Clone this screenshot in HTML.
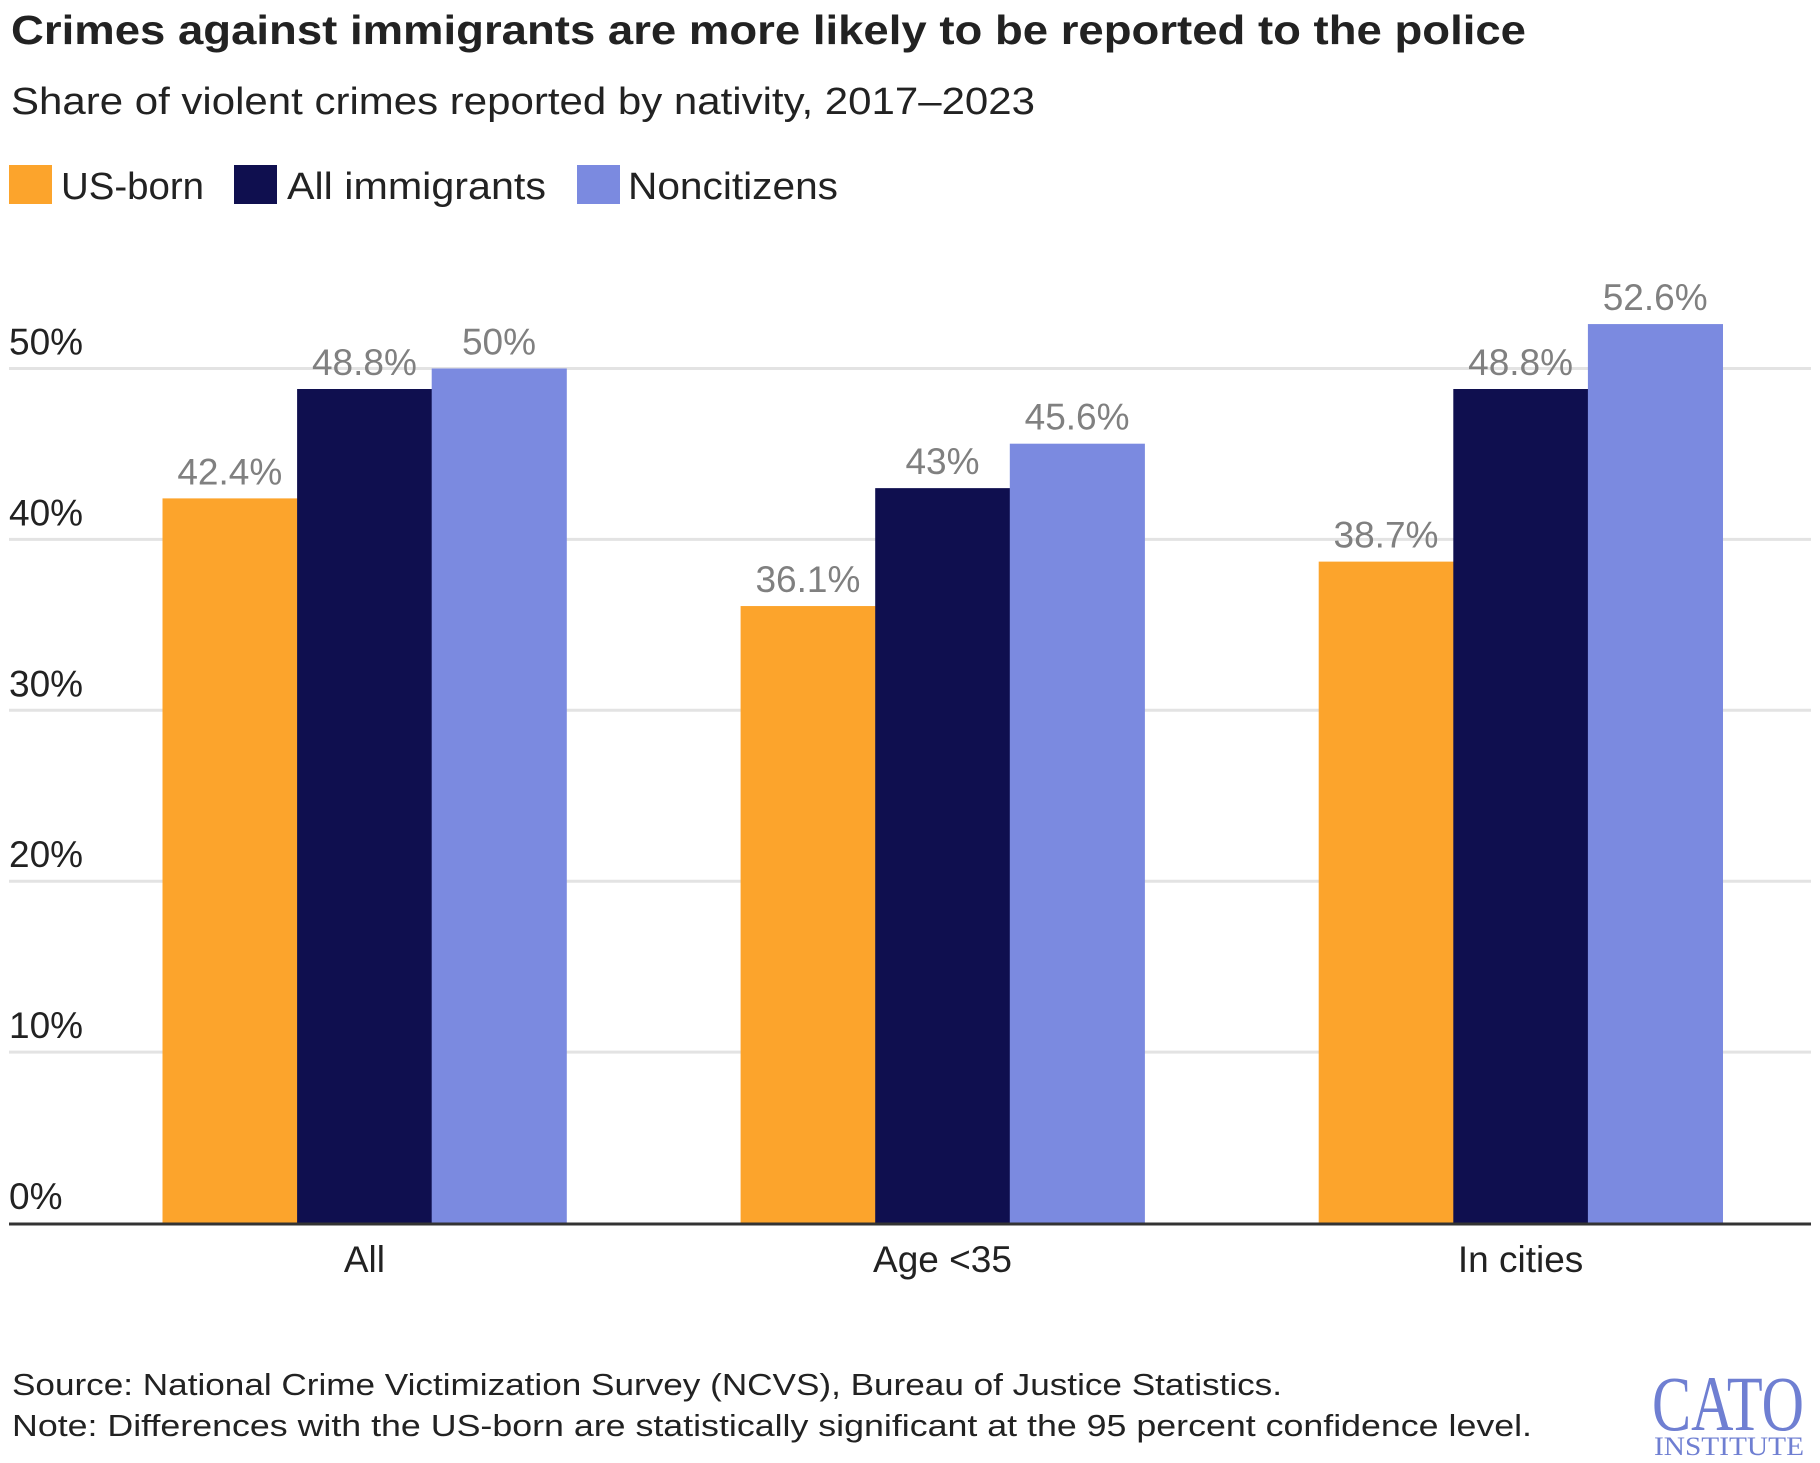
<!DOCTYPE html>
<html><head><meta charset="utf-8"><style>
html,body{margin:0;padding:0;background:#fff;}
svg{display:block;font-family:"Liberation Sans Narrow","Liberation Sans",sans-serif;}
</style></head><body>
<svg id="chart" width="1820" height="1463" viewBox="0 0 1820 1463">
<text x="11" y="44" font-size="41" font-weight="bold" fill="#222" textLength="1515" lengthAdjust="spacingAndGlyphs">Crimes against immigrants are more likely to be reported to the police</text>
<text x="11" y="114" font-size="38" fill="#222" textLength="1024" lengthAdjust="spacingAndGlyphs">Share of violent crimes reported by nativity, 2017–2023</text>
<g>
<rect x="9" y="165" width="43" height="39" fill="#fca42c"/>
<text x="61" y="199" font-size="38" fill="#222" textLength="143" lengthAdjust="spacingAndGlyphs">US-born</text>
<rect x="234" y="165" width="43" height="39" fill="#0f0f4f"/>
<text x="287" y="199" font-size="38" fill="#222" textLength="259" lengthAdjust="spacingAndGlyphs">All immigrants</text>
<rect x="577" y="165" width="43" height="39" fill="#7b8ae0"/>
<text x="628" y="199" font-size="38" fill="#222" textLength="210" lengthAdjust="spacingAndGlyphs">Noncitizens</text>
</g>
<g id="grid"></g>
<g id="bars"></g>
<line x1="9" x2="1811" y1="1224" y2="1224" stroke="#333" stroke-width="3"/>
<text x="12" y="1395" font-size="31" fill="#222" textLength="1270" lengthAdjust="spacingAndGlyphs">Source: National Crime Victimization Survey (NCVS), Bureau of Justice Statistics.</text>
<text x="12" y="1436" font-size="31" fill="#222" textLength="1520" lengthAdjust="spacingAndGlyphs">Note: Differences with the US-born are statistically significant at the 95 percent confidence level.</text>
<g fill="#6f7fd2" font-family="'Liberation Serif',serif">
<text x="1652" y="1430" font-size="78" textLength="152" lengthAdjust="spacingAndGlyphs">CATO</text>
<text x="1654" y="1455" font-size="26" textLength="150" lengthAdjust="spacingAndGlyphs">INSTITUTE</text>
</g>
</svg>
<script>
const categories = ["All", "Age <35", "In cities"];
const seriesNames = ["US-born", "All immigrants", "Noncitizens"];
const usBorn = [42.4, 36.1, 38.7];
const allImmigrants = [48.8, 43, 48.8];
const noncitizens = [50, 45.6, 52.6];
const valueLabels = [["42.4%","36.1%","38.7%"],["48.8%","43%","48.8%"],["50%","45.6%","52.6%"]];
const yTicks = [0, 10, 20, 30, 40, 50];
const yTickLabels = ["0%","10%","20%","30%","40%","50%"];

const NS = "http://www.w3.org/2000/svg";
const colors = ["#fca42c", "#0f0f4f", "#7b8ae0"];
const y0 = 1223, pxPer = 17.09;
function yScale(v){ return y0 - v * pxPer; }
const groupStart = 162.5, groupStep = 578.1, barW = 134.6;
function xScale(ci, si){ return groupStart + ci * groupStep + si * barW; }

const grid = document.getElementById("grid");
yTicks.forEach((t, i) => {
  const y = yScale(t);
  if (t > 0) {
    const l = document.createElementNS(NS, "line");
    
    
    l.setAttribute("x1", 9); l.setAttribute("x2", 1811);
    l.setAttribute("y1", y); l.setAttribute("y2", y);
    l.setAttribute("stroke", "#e3e3e3"); l.setAttribute("stroke-width", "3");
    grid.appendChild(l);
  }
  const tx = document.createElementNS(NS, "text");
  
  
  tx.setAttribute("x", 9); tx.setAttribute("y", y - 14);
  tx.setAttribute("font-size", "37"); tx.setAttribute("fill", "#222");
  tx.textContent = yTickLabels[i];
  grid.appendChild(tx);
});

const bars = document.getElementById("bars");
const series = [usBorn, allImmigrants, noncitizens];
series.forEach((vals, si) => {
  vals.forEach((v, ci) => {
    const x = xScale(ci, si), y = yScale(v);
    const r = document.createElementNS(NS, "rect");
    
    
    r.setAttribute("x", x); r.setAttribute("y", y);
    r.setAttribute("width", barW + 0.5); r.setAttribute("height", y0 - y);
    r.setAttribute("fill", colors[si]);
    bars.appendChild(r);
    const t = document.createElementNS(NS, "text");
    
    
    t.setAttribute("x", x + barW / 2); t.setAttribute("y", y - 14);
    t.setAttribute("text-anchor", "middle"); t.setAttribute("font-size", "37");
    t.setAttribute("fill", "#808080");
    t.textContent = valueLabels[si][ci];
    bars.appendChild(t);
  });
});
categories.forEach((c, ci) => {
  const t = document.createElementNS(NS, "text");
  
  
  t.setAttribute("x", xScale(ci, 1.5)); t.setAttribute("y", 1272);
  t.setAttribute("text-anchor", "middle"); t.setAttribute("font-size", "37");
  t.setAttribute("fill", "#222");
  t.textContent = c;
  bars.appendChild(t);
});
</script>
</body></html>
